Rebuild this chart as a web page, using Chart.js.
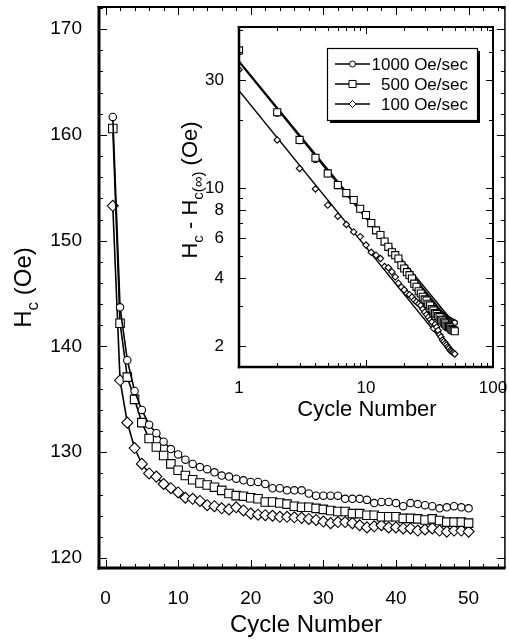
<!DOCTYPE html>
<html>
<head>
<meta charset="utf-8">
<script src="https://cdn.jsdelivr.net/npm/chart.js@4.4.1/dist/chart.umd.min.js"></script>
<style>
  html, body { margin: 0; padding: 0; background: #fff; overflow: hidden; }
  #wrap { position: relative; width: 509px; height: 643px; overflow: hidden; background: #fff; }
  #mainChart { position: absolute; left: 0; top: 0; }
  #insetChart { position: absolute; left: 170px; top: 20px; }
</style>
</head>
<body>
<div id="wrap">
  <canvas id="mainChart" width="512" height="643"></canvas>
  <canvas id="insetChart" width="339" height="410"></canvas>
</div>
<script>
const FONT = "'Liberation Sans', Arial, Helvetica, sans-serif";

// ---- main plot data (Hc in Oe vs cycle) ----
const cycles = [1, 2, 3, 4, 5, 6, 7, 8, 9, 10, 11, 12, 13, 14, 15, 16, 17, 18, 19, 20,
  21, 22, 23, 24, 25, 26, 27, 28, 29, 30, 31, 32, 33, 34, 35, 36, 37, 38, 39, 40,
  41, 42, 43, 44, 45, 46, 47, 48, 49, 50];

const hc1000 = [161.7, 143.7, 138.7, 135.8, 134.0, 132.6, 131.8, 131.0, 130.3, 129.8,
  129.3, 128.9, 128.6, 128.4, 128.1, 127.8, 127.7, 127.5, 127.35, 127.2,
  127.2, 127.0, 126.6, 126.6, 126.4, 126.4, 126.4, 126.1, 125.9, 125.9,
  125.9, 125.9, 125.6, 125.6, 125.6, 125.5, 125.2, 125.3, 125.3, 125.2,
  124.9, 125.2, 125.1, 125.0, 124.9, 124.7, 124.8, 124.9, 124.8, 124.7];

const hc500 = [160.6, 142.2, 137.1, 135.0, 132.8, 131.3, 130.5, 129.7, 128.9, 128.3,
  127.8, 127.4, 127.1, 126.9, 126.7, 126.4, 126.1, 125.9, 125.85, 125.7,
  125.6, 125.3, 125.3, 125.2, 125.1, 124.9, 124.8, 124.8, 124.7, 124.6,
  124.5, 124.4, 124.4, 124.2, 124.2, 124.05, 124.05, 123.9, 123.9, 123.9,
  123.75, 123.75, 123.7, 123.6, 123.7, 123.55, 123.4, 123.4, 123.4, 123.3];

const hc100 = [153.3, 136.8, 132.8, 130.4, 128.9, 128.0, 127.7, 127.0, 126.6, 126.2,
  125.7, 125.6, 125.4, 125.0, 124.9, 124.7, 124.6, 124.8, 124.5, 124.2,
  124.1, 124.05, 124.0, 123.9, 123.9, 123.85, 123.8, 123.7, 123.6, 123.45,
  123.3, 123.4, 123.4, 123.3, 123.1, 122.9, 123.0, 123.1, 122.9, 122.9,
  122.8, 122.8, 122.6, 122.7, 122.8, 122.6, 122.5, 122.6, 122.6, 122.5];

const mainXTicks = [0, 10, 20, 30, 40, 50];
const mainYTicks = [120, 130, 140, 150, 160, 170];

// ---- inset data (Hc - Hc(inf), log-log) ----
const dh1000 = [39.8, 21.3, 16.1, 13.3, 11.5, 10.2, 9.4, 8.8, 8.05, 7.55,
  7.0, 6.5, 6.2, 5.8, 5.5, 5.25, 5.05, 4.85, 4.6, 4.45,
  4.3, 4.15, 4.02, 3.85, 3.72, 3.58, 3.5, 3.4, 3.32, 3.25,
  3.19, 3.12, 3.06, 3.0, 2.95, 2.9, 2.86, 2.82, 2.78, 2.75,
  2.72, 2.69, 2.66, 2.64, 2.62, 2.6, 2.58, 2.57, 2.55, 2.54];

const dh500 = [40.5, 21.6, 16.3, 13.6, 11.6, 10.3, 9.5, 8.85, 8.1, 7.6,
  7.0, 6.5, 6.2, 5.8, 5.5, 5.2, 5.05, 4.88, 4.56, 4.41,
  4.25, 4.12, 3.98, 3.78, 3.66, 3.5, 3.42, 3.31, 3.22, 3.19,
  3.08, 3.03, 2.92, 2.88, 2.8, 2.78, 2.72, 2.69, 2.62, 2.6,
  2.55, 2.52, 2.47, 2.45, 2.43, 2.42, 2.38, 2.36, 2.35, 2.33];

const dh100 = [33.3, 16.3, 12.2, 9.9, 8.4, 7.5, 6.9, 6.4, 6.1, 5.6,
  5.2, 5.05, 4.88, 4.5, 4.45, 4.26, 4.05, 3.8, 3.65, 3.55,
  3.42, 3.38, 3.3, 3.2, 3.14, 3.08, 3.03, 2.92, 2.83, 2.76,
  2.69, 2.62, 2.56, 2.4, 2.5, 2.43, 2.35, 2.25, 2.2, 2.13,
  2.1, 2.06, 2.03, 1.99, 1.96, 1.92, 1.9, 1.88, 1.87, 1.85];

// power-law fit lines, end points
const fitCycles = [1, 50];
const fit1000 = [36.4, 2.5];
const fit500 = [36.0, 2.42];
const fit100 = [26.9, 1.8];

const insetXTicks = [1, 10, 100];
const insetXMinor = [2, 3, 4, 5, 6, 7, 8, 9, 20, 30, 40, 50, 60, 70, 80, 90];
const insetYTicks = [2, 4, 6, 8, 10, 30];
const insetYMinor = [3, 5, 7, 9, 20, 40, 50];

const seriesNames = ["1000 Oe/sec", "500 Oe/sec", "100 Oe/sec"];

function toPoints(xs, ys) {
  return xs.map((x, i) => ({ x, y: ys[i] }));
}

function range(from, to, step) {
  const out = [];
  for (let v = from; v <= to + 1e-9; v += step) out.push(v);
  return out;
}

// fixed axis box, no automatic label padding
function fixHeight(h) {
  return s => { s.height = h; s.paddingLeft = 0; s.paddingRight = 0; };
}
function fixWidth(w) {
  return s => { s.width = w; s.paddingTop = 0; s.paddingBottom = 0; };
}

// inward tick marks + frame, placed through the chart scales
function frameTicks(cfg) {
  return {
    id: "frameTicks",
    afterDraw(chart) {
      const { ctx, chartArea: a, scales } = chart;
      const xs = scales.x, ys = scales.y;
      ctx.save();
      ctx.strokeStyle = "#000";
      ctx.lineWidth = 1;
      ctx.beginPath();
      const xTick = (v, len) => {
        const p = Math.round(xs.getPixelForValue(v)) + 0.5;
        if (p < a.left || p > a.right) return;
        ctx.moveTo(p, a.bottom); ctx.lineTo(p, a.bottom - len);
        ctx.moveTo(p, a.top); ctx.lineTo(p, a.top + len);
      };
      const yTick = (v, len) => {
        const p = Math.round(ys.getPixelForValue(v)) + 0.5;
        if (p < a.top || p > a.bottom) return;
        ctx.moveTo(a.left, p); ctx.lineTo(a.left + len, p);
        ctx.moveTo(a.right, p); ctx.lineTo(a.right - len, p);
      };
      cfg.xMinor.forEach(v => xTick(v, cfg.minorLen));
      cfg.xMajor.forEach(v => xTick(v, cfg.majorLen));
      cfg.yMinor.forEach(v => yTick(v, cfg.minorLen));
      cfg.yMajor.forEach(v => yTick(v, cfg.majorLen));
      ctx.stroke();

      const side = (w, x1, y1, x2, y2) => {
        ctx.lineWidth = w;
        ctx.beginPath();
        ctx.moveTo(x1, y1);
        ctx.lineTo(x2, y2);
        ctx.stroke();
      };
      const b = cfg.border;
      side(b.top, a.left - b.left / 2, a.top, a.right + b.right / 2, a.top);
      side(b.right, a.right, a.top, a.right, a.bottom);
      side(b.left, a.left, a.top - b.top / 2, a.left, a.bottom + b.bottom / 2);
      side(b.bottom, a.left - b.left / 2, a.bottom, a.right + b.right / 2, a.bottom);
      ctx.restore();
    },
  };
}

// text with subscripts, rotated for vertical axis titles
function drawRich(ctx, parts, size) {
  const subSize = Math.round(size * 0.7);
  const widths = parts.map(([t, sub]) => {
    ctx.font = `${sub ? subSize : size}px ${FONT}`;
    return ctx.measureText(t).width;
  });
  let x = -widths.reduce((s, w) => s + w, 0) / 2;
  parts.forEach(([t, sub], i) => {
    ctx.font = `${sub ? subSize : size}px ${FONT}`;
    ctx.fillText(t, x, sub ? size * 0.28 : 0);
    x += widths[i];
  });
}

function axisTitles(cfg) {
  return {
    id: "axisTitles",
    afterDraw(chart) {
      const ctx = chart.ctx;
      ctx.save();
      ctx.fillStyle = "#000";
      ctx.textAlign = "center";
      ctx.textBaseline = "middle";
      ctx.font = `${cfg.xSize}px ${FONT}`;
      ctx.fillText("Cycle Number", cfg.xTitle[0], cfg.xTitle[1]);

      ctx.textAlign = "left";
      ctx.textBaseline = "alphabetic";
      ctx.translate(cfg.yTitle[0], cfg.yTitle[1]);
      ctx.rotate(-Math.PI / 2);
      drawRich(ctx, cfg.yParts, cfg.ySize);
      ctx.restore();
    },
  };
}

function drawMarker(ctx, style, x, y, r) {
  ctx.beginPath();
  if (style === "circle") {
    ctx.arc(x, y, r, 0, Math.PI * 2);
  } else if (style === "rect") {
    const s = r * Math.SQRT1_2;
    ctx.rect(x - s, y - s, 2 * s, 2 * s);
  } else {
    ctx.moveTo(x, y - r); ctx.lineTo(x + r, y); ctx.lineTo(x, y + r); ctx.lineTo(x - r, y);
    ctx.closePath();
  }
  ctx.fillStyle = "#fff";
  ctx.fill();
  ctx.stroke();
}

const insetLegend = {
  id: "insetLegend",
  afterDraw(chart) {
    const ctx = chart.ctx;
    const box = { x: 157, y: 28, w: 150, h: 72 };
    const styles = [["circle", 3], ["rect", 5], ["rectRot", 3.5]];
    ctx.save();
    ctx.fillStyle = "#000";
    ctx.fillRect(box.x + 3, box.y + 3, box.w, box.h);
    ctx.fillStyle = "#fff";
    ctx.fillRect(box.x, box.y, box.w, box.h);
    ctx.strokeStyle = "#000";
    ctx.lineWidth = 1.2;
    ctx.strokeRect(box.x + 0.5, box.y + 0.5, box.w, box.h);

    seriesNames.forEach((name, i) => {
      const y = 44 + i * 20;
      ctx.lineWidth = 1.3;
      ctx.beginPath();
      ctx.moveTo(165, y); ctx.lineTo(200, y);
      ctx.stroke();
      ctx.lineWidth = 1;
      drawMarker(ctx, styles[i][0], 182.5, y, styles[i][1]);
      ctx.fillStyle = "#000";
      ctx.font = `17px ${FONT}`;
      ctx.textAlign = "right";
      ctx.textBaseline = "middle";
      ctx.fillText(name, 298, y + 1);
    });
    ctx.restore();
  },
};

function markerSet(data, style, radius, lineWidth, showLine, order) {
  return {
    data,
    pointStyle: style,
    pointRadius: radius,
    pointBorderWidth: 1.1,
    pointBorderColor: "#000",
    pointBackgroundColor: "#fff",
    borderColor: "#000",
    borderWidth: lineWidth,
    showLine,
    tension: 0,
    order,
  };
}

function fitSet(data, order) {
  return {
    data,
    pointRadius: 0,
    borderColor: "#000",
    borderWidth: 1.5,
    showLine: true,
    tension: 0,
    order,
  };
}

// ---- main chart ----
new Chart(document.getElementById("mainChart"), {
  type: "line",
  data: {
    datasets: [
      markerSet(toPoints(cycles, hc1000), "circle", 3.7, 1.6, true, 0),
      markerSet(toPoints(cycles, hc500), "rect", 6, 1.6, true, 1),
      markerSet(toPoints(cycles, hc100), "rectRot", 5.5, 1.6, true, 2),
    ],
  },
  options: {
    responsive: false,
    animation: false,
    events: [],
    layout: { padding: { top: 6, right: 1, left: 0, bottom: 0 } },
    plugins: { legend: { display: false }, tooltip: { enabled: false } },
    scales: {
      x: {
        type: "linear",
        min: -0.9,
        max: 55,
        grid: { display: false },
        border: { display: false },
        afterFit: fixHeight(75),
        afterBuildTicks: s => { s.ticks = mainXTicks.map(v => ({ value: v })); },
        ticks: { padding: 11, maxRotation: 0, color: "#000", font: { family: FONT, size: 19 } },
      },
      y: {
        type: "linear",
        min: 119.06,
        max: 172.08,
        grid: { display: false },
        border: { display: false },
        afterFit: fixWidth(99),
        afterBuildTicks: s => { s.ticks = mainYTicks.map(v => ({ value: v })); },
        ticks: { padding: 9, color: "#000", font: { family: FONT, size: 19 } },
      },
    },
  },
  plugins: [
    frameTicks({
      xMajor: mainXTicks, xMinor: range(0, 54, 2),
      yMajor: mainYTicks, yMinor: range(120, 172, 2),
      majorLen: 8, minorLen: 4,
      border: { left: 3, bottom: 3, top: 2, right: 1.5 },
    }),
    axisTitles({
      xTitle: [306, 625], xSize: 24,
      yTitle: [31, 287.5], ySize: 24,
      yParts: [["H", false], ["c", true], [" (Oe)", false]],
    }),
  ],
});

// ---- inset chart ----
new Chart(document.getElementById("insetChart"), {
  type: "line",
  data: {
    datasets: [
      markerSet(toPoints(cycles, dh1000), "circle", 2.6, 0, false, 1),
      markerSet(toPoints(cycles, dh500), "rect", 5, 0, false, 0),
      markerSet(toPoints(cycles, dh100), "rectRot", 3.2, 0, false, 2),
      fitSet(toPoints(fitCycles, fit1000), 10),
      fitSet(toPoints(fitCycles, fit500), 11),
      fitSet(toPoints(fitCycles, fit100), 12),
    ],
  },
  options: {
    responsive: false,
    animation: false,
    events: [],
    layout: { padding: { top: 7, right: 16, left: 0, bottom: 0 } },
    plugins: { legend: { display: false }, tooltip: { enabled: false } },
    scales: {
      x: {
        type: "logarithmic",
        min: 1,
        max: 100,
        grid: { display: false },
        border: { display: false },
        afterFit: fixHeight(63),
        afterBuildTicks: s => { s.ticks = insetXTicks.map(v => ({ value: v })); },
        ticks: { padding: 3, maxRotation: 0, color: "#000", font: { family: FONT, size: 17 }, callback: v => String(v) },
      },
      y: {
        type: "logarithmic",
        min: 1.62,
        max: 51.4,
        grid: { display: false },
        border: { display: false },
        afterFit: fixWidth(69),
        afterBuildTicks: s => { s.ticks = insetYTicks.map(v => ({ value: v })); },
        ticks: { padding: 7, color: "#000", font: { family: FONT, size: 17 }, callback: v => String(v) },
      },
    },
  },
  plugins: [
    frameTicks({
      xMajor: insetXTicks, xMinor: insetXMinor,
      yMajor: insetYTicks, yMinor: insetYMinor,
      majorLen: 7, minorLen: 4,
      border: { left: 2.5, bottom: 2.5, top: 2, right: 2 },
    }),
    axisTitles({
      xTitle: [197, 390], xSize: 22,
      yTitle: [27, 170], ySize: 22,
      yParts: [["H", false], ["c", true], [" - H", false], ["c(∞)", true], [" (Oe)", false]],
    }),
    insetLegend,
  ],
});
</script>
</body>
</html>
